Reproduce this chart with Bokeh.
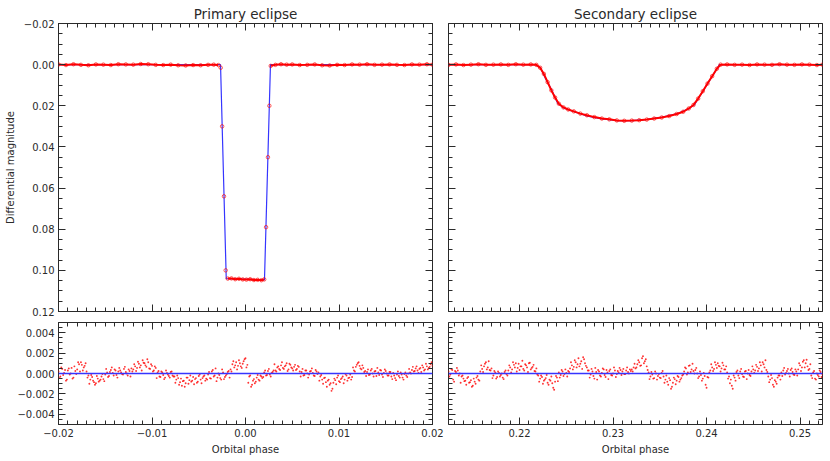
from bokeh.plotting import figure
from bokeh.models import (Range1d, LinearAxis, SingleIntervalTicker, CustomJSTickFormatter,
                          Span, Grid)
from bokeh.layouts import column, row
from bokeh.embed import file_html
from bokeh.resources import INLINE

# ------------------------------------------------------------------ data
TITLE_PRIMARY = "Primary eclipse"
TITLE_SECONDARY = "Secondary eclipse"
Y_LABEL = "Differential magnitude"
X_LABEL = "Orbital phase"

prim_xrange = (-0.02, 0.02)
sec_xrange = (0.2124, 0.2524)
lc_yrange = (0.12, -0.02)        # magnitudes, reversed
res_yrange = (-0.005, 0.005)
res_zero = 0.0

# model (blue) light curves
model1_phase = [-0.02, -0.00267, -0.00206, 0.00203, 0.00267, 0.02]
model1_mag = [0.0, 0.0, 0.1040, 0.1046, 0.0, 0.0]

model2_phase = [0.2124, 0.2217, 0.22224, 0.22277, 0.2234, 0.22406, 0.2247, 0.22545, 0.22727,
                0.22866, 0.23048, 0.2321, 0.23368, 0.23529, 0.2369, 0.23807, 0.23871, 0.24138, 0.2524]
model2_mag = [0.0, 0.0, 0.0015, 0.0067, 0.0120, 0.0187, 0.0210, 0.0222, 0.0250,
              0.0262, 0.0272, 0.0272, 0.0266, 0.0255, 0.0238, 0.0215, 0.0195, 0.0, 0.0]

# observed (red) primary eclipse, split into out-of-eclipse / ingress / bottom / egress / after
prim_pre_phase = [-0.0200, -0.0192, -0.0184, -0.0176, -0.0168, -0.0160, -0.0152, -0.0144, -0.0136,
                  -0.0128, -0.0120, -0.0112, -0.0104, -0.0096, -0.0088, -0.0080, -0.0072, -0.0064,
                  -0.0056, -0.0048, -0.0040, -0.0034, -0.0029]
prim_pre_mag = [-0.0001, 0.0002, -0.0002, 0.0001, 0.0003, -0.0001, 0.0000, 0.0002, -0.0002,
                -0.0001, 0.0000, -0.0003, -0.0002, 0.0001, 0.0002, 0.0000, 0.0003, 0.0004,
                0.0002, 0.0003, 0.0001, 0.0000, 0.0002]
prim_ing_phase = [-0.00265, -0.0025, -0.0023, -0.00212]
prim_ing_mag = [0.0015, 0.0300, 0.0640, 0.1000]
prim_bot_phase = [-0.0019, -0.0015, -0.0011, -0.0007, -0.0003, 0.0001, 0.0005, 0.0009, 0.0013,
                  0.0017, 0.0020]
prim_bot_mag = [0.1040, 0.1039, 0.1043, 0.1041, 0.1044, 0.1045, 0.1043, 0.1047, 0.1046,
                0.1048, 0.1044]
prim_egr_phase = [0.0022, 0.0024, 0.00255]
prim_egr_mag = [0.0790, 0.0450, 0.0200]
prim_post_phase = [0.0027, 0.0032, 0.0038, 0.0044, 0.0050, 0.0058, 0.0066, 0.0074, 0.0082,
                   0.0090, 0.0098, 0.0106, 0.0114, 0.0122, 0.0130, 0.0138, 0.0146, 0.0154,
                   0.0162, 0.0170, 0.0178, 0.0186, 0.0194, 0.0200]
prim_post_mag = [0.0006, 0.0001, -0.0002, 0.0000, -0.0001, 0.0002, 0.0001, -0.0001, 0.0003,
                 0.0004, 0.0001, 0.0002, -0.0001, 0.0000, -0.0002, 0.0001, 0.0000, -0.0001,
                 0.0001, 0.0002, -0.0001, 0.0000, -0.0002, 0.0000]

# observed (red) secondary eclipse
sec_obs_phase = [0.2124, 0.2132, 0.2140, 0.2148, 0.2156, 0.2164, 0.2172, 0.2180, 0.2188, 0.2196,
                 0.2204, 0.2212, 0.2218, 0.2222, 0.2226, 0.2230, 0.2234, 0.2238, 0.2242, 0.2247,
                 0.2252, 0.2258, 0.2265, 0.2272, 0.2280, 0.2288, 0.2296, 0.2304, 0.2312, 0.2320,
                 0.2328, 0.2336, 0.2344, 0.2352, 0.2360, 0.2368, 0.2375, 0.2381, 0.2386, 0.2391,
                 0.2396, 0.2401, 0.2406, 0.2411, 0.2415, 0.2422, 0.2430, 0.2438, 0.2446, 0.2454,
                 0.2462, 0.2470, 0.2478, 0.2486, 0.2494, 0.2502, 0.2510, 0.2518, 0.2524]
sec_obs_mag = [0.0001, -0.0001, 0.0002, 0.0000, -0.0002, 0.0001, 0.0000, -0.0001, 0.0001, -0.0002,
               0.0000, -0.0001, 0.0001, 0.0015, 0.0045, 0.0085, 0.0125, 0.0160, 0.0190, 0.0208,
               0.0218, 0.0227, 0.0238, 0.0246, 0.0255, 0.0262, 0.0266, 0.0271, 0.0273, 0.0272,
               0.0270, 0.0267, 0.0262, 0.0257, 0.0250, 0.0240, 0.0229, 0.0213, 0.0196, 0.0165,
               0.0129, 0.0092, 0.0056, 0.0020, 0.0000, -0.0001, 0.0001, 0.0000, 0.0002, -0.0001,
               0.0000, 0.0001, -0.0002, 0.0000, 0.0001, -0.0001, 0.0000, 0.0002, 0.0000]

# residuals: phase in units of 1e-4, residual in units of 1e-5 mag
res1_phase_e4 = [-200, -198, -196, -194, -192, -190, -188, -186, -184, -182,
                 -180, -178, -176, -174, -172, -170, -168, -166, -164, -162,
                 -160, -158, -156, -154, -152, -150, -148, -146, -144, -142,
                 -140, -138, -136, -134, -132, -130, -128, -126, -124, -122,
                 -120, -118, -116, -114, -112, -110, -108, -106, -104, -102,
                 -100, -98, -96, -94, -92, -90, -88, -86, -84, -82,
                 -80, -78, -76, -74, -72, -70, -68, -66, -64, -62,
                 -60, -58, -56, -54, -52, -50, -48, -46, -44, -42,
                 -40, -38, -36, -34, -32, -30, -28, -26, -24, -22,
                 -20, -18, -16, -14, -12, -10, -8, -6, -4, -2,
                 0, 2, 4, 6, 8, 10, 12, 14, 16, 18,
                 20, 22, 24, 26, 28, 30, 32, 34, 36, 38,
                 40, 42, 44, 46, 48, 50, 52, 54, 56, 58,
                 60, 62, 64, 66, 68, 70, 72, 74, 76, 78,
                 80, 82, 84, 86, 88, 90, 92, 94, 96, 98,
                 100, 102, 104, 106, 108, 110, 112, 114, 116, 118,
                 120, 122, 124, 126, 128, 130, 132, 134, 136, 138,
                 140, 142, 144, 146, 148, 150, 152, 154, 156, 158,
                 160, 162, 164, 166, 168, 170, 172, 174, 176, 178,
                 180, 182, 184, 186, 188, 190, 192, 194, 196, 198,
                 200]
res1_e5 = [20, -30, 45, 5, -70, 30, -10, 55, -40, 25,
           40, 90, 110, 30, 75, 20,
           -20, -60, -35, -85, -95, -50, -70, -30, -55, -10,
           10, -25, 35, 5, 40, -15, 20, 30, -5, 45, 15, -20, 25, 50,
           40, 70, 55, 95, 80, 130, 100, 65, 110, 45, 75, 30, 55,
           10, -30, 20, -15, -40, 5, -25, 15, -20,
           -30, -60, -45, -85, -120, -70, -95, -40, -65, -80, -35, -55, -90, -25, -60, -45, -20, -50,
           -10, -45, 20, -30, 50, -40, -15, -60, 10, -35, -5, 25,
           40, 90, 60, 110, 75, 100, 55, 120, 150, 85,
           -30, -130, -70, -95, -40, -60, -20, -45,
           10, -20, 25, -10, 5, 30,
           30, 60, 45, 80, 55, 70, 100, 40, 85, 50, 65, 35, 75, 20,
           15, -20, 30, 0, -10, 25, 5, -25, 20, 10,
           -30, -60, -45, -85, -70, -110, -170, -90, -65, -40, -75, -55, -30, -60, -20, -45, -10, -35,
           30, 65, 100, 75, 40, 55, 25,
           15, -15, 30, 0, 20, -25, 10, 35, -10, 5, 25, -20, 15,
           -30, 5, -45, -10, -25, 10, -40, -5, -20, 0,
           10, 35, 20, 50, 30, 45, 15, 60, 40, 70, 55, 90, 75]

res1b_phase_e4 = [-199, -197, -195, -193, -191, -189, -187, -185, -183, -181,
                  -179, -177, -175, -173, -171, -169, -167, -165, -163, -161,
                  -159, -157, -155, -153, -151, -149, -147, -145, -143, -141,
                  -139, -137, -135, -133, -131, -129, -127, -125, -123, -121,
                  -119, -117, -115, -113, -111, -109, -107, -105, -103, -101,
                  -99, -97, -95, -93, -91, -89, -87, -85, -83, -81,
                  -79, -77, -75, -73, -71, -69, -67, -65, -63, -61,
                  -59, -57, -55, -53, -51, -49, -47, -45, -43, -41,
                  -39, -37, -35, -33, -31, -29, -27, -25, -23, -21,
                  -19, -17, -15, -13, -11, -9, -7, -5, -3, -1,
                  1, 3, 5, 7, 9, 11, 13, 15, 17, 19,
                  21, 23, 25, 27, 29, 31, 33, 35, 37, 39,
                  41, 43, 45, 47, 49, 51, 53, 55, 57, 59,
                  61, 63, 65, 67, 69, 71, 73, 75, 77, 79,
                  81, 83, 85, 87, 89, 91, 93, 95, 97, 99,
                  101, 103, 105, 107, 109, 111, 113, 115, 117, 119,
                  121, 123, 125, 127, 129, 131, 133, 135, 137, 139,
                  141, 143, 145, 147, 149, 151, 153, 155, 157, 159,
                  161, 163, 165, 167, 169, 171, 173, 175, 177, 179,
                  181, 183, 185, 187, 189, 191, 193, 195, 197, 199]
res1b_e5 = [-45, 60, -15, 35, -60, 50, 0, -50, 70, -5,
            110, 20, 85, 60, 100,
            -40, -100, -15, -70, -110, -25, -80, -60, -5, -75,
            45, -35, 15, 60, -20, 30, -40, 55, 10, -10, 65, 0, 40, -30, 20,
            90, 25, 115, 60, 30, 105, 80, 140, 50, 90, 20, 70,
            -45, 25, -35, 10, -55, 30, -10, -40, 20, -30,
            -90, -20, -110, -50, -75, -130, -40, -100, -20, -70, -105, -45, -80, -10, -95, -30, -70,
            -60, 15, -50, 35, -20, -75, 0, -45, 40, -55, -20, 15, -40,
            20, 120, 80, 40, 130, 70, 95, 140, 60,
            -90, -20, -110, -55, -80, -15, -70, -30,
            -35, 30, -15, 45, -30, 15,
            90, 20, 70, 35, 110, 45, 80, 25, 95, 60, 30, 85, 45, 65,
            -30, 45, -15, 30, -40, 20, 50, -20, 35, -5,
            -70, -15, -100, -40, -130, -60, -95, -150, -50, -105, -20, -85, -45, -95, -5, -70, -40, -60,
            60, 20, 85, 110, 50, 80, 15,
            -25, 40, -10, 45, -30, 25, 55, -15, 30, -35, 40, 0, -20,
            15, -55, -20, -65, 20, -40, -10, -60, 10, -35,
            45, 0, 65, 25, 70, 5, 55, 80, 30, 95, 40, 65, 110]

res2_phase_e4 = [2124, 2126, 2128, 2130, 2132, 2134, 2136, 2138, 2140, 2142,
                 2144, 2146, 2148, 2150, 2152, 2154, 2156, 2158, 2160, 2162,
                 2164, 2166, 2168, 2170, 2172, 2174, 2176, 2178, 2180, 2182,
                 2184, 2186, 2188, 2190, 2192, 2194, 2196, 2198, 2200, 2202,
                 2204, 2206, 2208, 2210, 2212, 2214, 2216, 2218, 2220, 2222,
                 2224, 2226, 2228, 2230, 2232, 2234, 2236, 2238, 2240, 2242,
                 2244, 2246, 2248, 2250, 2252, 2254, 2256, 2258, 2260, 2262,
                 2264, 2266, 2268, 2270, 2272, 2274, 2276, 2278, 2280, 2282,
                 2284, 2286, 2288, 2290, 2292, 2294, 2296, 2298, 2300, 2302,
                 2304, 2306, 2308, 2310, 2312, 2314, 2316, 2318, 2320, 2322,
                 2324, 2326, 2328, 2330, 2332, 2334, 2336, 2338, 2340, 2342,
                 2344, 2346, 2348, 2350, 2352, 2354, 2356, 2358, 2360, 2362,
                 2364, 2366, 2368, 2370, 2372, 2374, 2376, 2378, 2380, 2382,
                 2384, 2386, 2388, 2390, 2392, 2394, 2396, 2398, 2400, 2402,
                 2404, 2406, 2408, 2410, 2412, 2414, 2416, 2418, 2420, 2422,
                 2424, 2426, 2428, 2430, 2432, 2434, 2436, 2438, 2440, 2442,
                 2444, 2446, 2448, 2450, 2452, 2454, 2456, 2458, 2460, 2462,
                 2464, 2466, 2468, 2470, 2472, 2474, 2476, 2478, 2480, 2482,
                 2484, 2486, 2488, 2490, 2492, 2494, 2496, 2498, 2500, 2502,
                 2504, 2506, 2508, 2510, 2512, 2514, 2516, 2518, 2520, 2522,
                 2524]
res2_e5 = [20, -10, 35, -80, 15, 30, 0,
           -30, -50, -70, -45, -90, -65, -120, -80, -40, -60,
           20, 45, 70, 110, 60, 35, 50,
           -20, 10, -35, 5, -15, -40, 15, -5,
           30, 60, 40, 85, 100, 55, 35, 70, 45, 90, 60, 100, 40, 65, 25, 50,
           -20, -50, -35, -70, -45, -90, -60, -30, -140, -80, -40,
           10, -15, 20, -5, 5, 25,
           50, 80, 65, 110, 90, 70, 120, 160, 100, 60,
           30, -10, 20, -50, 15, 35, -20, 5, 40, -35, 10, 25, -15, 0, 30, -5,
           10, 35, 20, -5, 30, 15, 40,
           40, 60, 50, 90, 110, 80, 170, 120, 70,
           10, -30, -10, -45, 0, -25, -40, 5,
           -30, -60, -80, -45, -150, -90, -55, -70, -35, -60, -20,
           20, 50, 10, 80, 40, 25, 35,
           0, -30, -15, -50, -25, -140, -40,
           30, 60, 45, 85, 100, 70, 50, 80, 40,
           10, -30, -60, -150, -40, 15, -20, 20, -5, -35, 25, 0, -15,
           20, 40, 30, 65, 50, 80, 110, 60, 35,
           -30, -60, -45, -130, -80, -40, -20,
           10, 30, -10, 25, 0, 35, 15, -15, 20,
           40, 80, 60, 130, 100, 70, 45,
           -20, 10, -50, 0, -30, 15, -10]

res2b_phase_e4 = [2125, 2127, 2129, 2131, 2133, 2135, 2137, 2139, 2141, 2143,
                  2145, 2147, 2149, 2151, 2153, 2155, 2157, 2159, 2161, 2163,
                  2165, 2167, 2169, 2171, 2173, 2175, 2177, 2179, 2181, 2183,
                  2185, 2187, 2189, 2191, 2193, 2195, 2197, 2199, 2201, 2203,
                  2205, 2207, 2209, 2211, 2213, 2215, 2217, 2219, 2221, 2223,
                  2225, 2227, 2229, 2231, 2233, 2235, 2237, 2239, 2241, 2243,
                  2245, 2247, 2249, 2251, 2253, 2255, 2257, 2259, 2261, 2263,
                  2265, 2267, 2269, 2271, 2273, 2275, 2277, 2279, 2281, 2283,
                  2285, 2287, 2289, 2291, 2293, 2295, 2297, 2299, 2301, 2303,
                  2305, 2307, 2309, 2311, 2313, 2315, 2317, 2319, 2321, 2323,
                  2325, 2327, 2329, 2331, 2333, 2335, 2337, 2339, 2341, 2343,
                  2345, 2347, 2349, 2351, 2353, 2355, 2357, 2359, 2361, 2363,
                  2365, 2367, 2369, 2371, 2373, 2375, 2377, 2379, 2381, 2383,
                  2385, 2387, 2389, 2391, 2393, 2395, 2397, 2399, 2401, 2403,
                  2405, 2407, 2409, 2411, 2413, 2415, 2417, 2419, 2421, 2423,
                  2425, 2427, 2429, 2431, 2433, 2435, 2437, 2439, 2441, 2443,
                  2445, 2447, 2449, 2451, 2453, 2455, 2457, 2459, 2461, 2463,
                  2465, 2467, 2469, 2471, 2473, 2475, 2477, 2479, 2481, 2483,
                  2485, 2487, 2489, 2491, 2493, 2495, 2497, 2499, 2501, 2503,
                  2505, 2507, 2509, 2511, 2513, 2515, 2517, 2519, 2521, 2523]
res2b_e5 = [-30, 45, -60, 25, 55, -20,
            -90, -20, -75, -110, -35, -85, -130, -50, -100, -25, -70,
            80, 15, 95, 40, 120, 30,
            -45, 25, -50, 20, -30, 0, -55, 30, -20,
            80, 10, 110, 60, 20, 95, 70, 125, 30, 80, 15, 105, 55, 85, 20,
            -10, -80, -20, -100, -60, -15, -110, -70, -95, -160, -25, -75,
            -40, 35, -25, 40, -30, 15,
            110, 40, 130, 60, 150, 95, 45, 140, 75, 30,
            -40, 45, -25, 55, -60, 20, -30, 50, -15, 35, -55, 40, -20, 60, -35, 25,
            55, -15, 45, -5, 60, 0, 25,
            20, 95, 60, 130, 75, 150, 100, 140, 35,
            -55, 15, -50, 20, -60, -5, -45, 25,
            -90, -20, -110, -65, -130, -40, -105, -25, -80, -45, -10,
            60, -10, 75, 15, 95, 0, 55,
            -45, 20, -70, 5, -110, -35, 10,
            90, 25, 110, 55, 75, 20, 105, 40, 70,
            -50, -95, -120, -20, -70, 30, -45, 45, -30, 20, -55, 35, -25,
            70, 5, 85, 25, 110, 20, 90, 130, 15,
            -85, -15, -110, -65, -100, -20, -60,
            -25, 55, 5, 45, -30, 50, -10, 40, -20,
            100, 25, 115, 60, 135, 35, 90,
            -45, 25, -60, -15, 30, -35]

# ------------------------------------------------------------------ style
RED = "#ff0000"
BLUE = "#3535ff"
INK = "#2a2a2a"
FONT = "DejaVu Sans"


def make_fig(width, height, xr, yr, bl, br, bt, bb, title=None):
    kw = {}
    if title:
        kw["title"] = title
    p = figure(width=width, height=height, x_range=Range1d(*xr), y_range=Range1d(*yr),
               x_axis_location=None, y_axis_location=None, toolbar_location=None,
               output_backend="svg", min_border_left=bl, min_border_right=br,
               min_border_top=bt, min_border_bottom=bb, **kw)
    p.center = [r for r in p.center if not isinstance(r, Grid)]
    p.outline_line_color = INK
    p.outline_line_width = 1
    p.background_fill_color = "white"
    p.border_fill_color = "white"
    if title:
        p.title.align = "center"
        p.title.text_font = FONT
        p.title.text_font_size = "13.5px"
        p.title.text_font_style = "normal"
        p.title.text_color = INK
        p.title.standoff = 4
        p.title.offset = 0
    return p


def add_axis(p, side, interval, minor, digits=None, label=None):
    ax = LinearAxis(ticker=SingleIntervalTicker(interval=interval, num_minor_ticks=minor))
    ax.major_tick_in = 7
    ax.major_tick_out = 0
    ax.minor_tick_in = 4
    ax.minor_tick_out = 0
    ax.axis_line_color = None
    ax.major_tick_line_color = INK
    ax.minor_tick_line_color = INK
    if digits is None:
        ax.formatter = CustomJSTickFormatter(code="return '';")
        ax.major_label_text_font_size = "0px"
        ax.major_label_standoff = 0
    else:
        ax.formatter = CustomJSTickFormatter(
            code="const t = Math.abs(tick) < 1e-12 ? 0 : tick; "
                 f"return t.toFixed({digits}).replace('-', '\u2212');")
        ax.major_label_text_font = FONT
        ax.major_label_text_font_size = "10px"
        ax.major_label_text_color = INK
        ax.major_label_standoff = 4
    if label:
        ax.axis_label = label
        ax.axis_label_text_font = FONT
        ax.axis_label_text_font_size = "10px"
        ax.axis_label_text_font_style = "normal"
        ax.axis_label_text_color = INK
        ax.axis_label_standoff = 5 if side == "left" else 4
    p.add_layout(ax, side)
    return ax


LW, RW = 447, 383
TH, BH = 317, 144


def residual_dots(p, ph_e4, v_e5):
    p.scatter([v * 1e-4 for v in ph_e4], [v * 1e-5 for v in v_e5], marker="circle",
              size=1.9, fill_color=RED, line_color=None, fill_alpha=0.8)


# top-left: primary eclipse light curve
p1 = make_fig(LW, TH, prim_xrange, lc_yrange, 58, 15, 23, 6, TITLE_PRIMARY)
add_axis(p1, "left", 0.02, 4, digits=2, label=Y_LABEL)
add_axis(p1, "right", 0.02, 4)
add_axis(p1, "below", 0.01, 10)
add_axis(p1, "above", 0.01, 10)
p1.line(model1_phase, model1_mag, line_color=BLUE, line_width=1.2)
for ph, mg in [(prim_pre_phase, prim_pre_mag), (prim_bot_phase, prim_bot_mag),
               (prim_post_phase, prim_post_mag)]:
    p1.line(ph, mg, line_color=RED, line_width=2)
for ph, mg in [(prim_pre_phase, prim_pre_mag), (prim_ing_phase, prim_ing_mag),
               (prim_bot_phase, prim_bot_mag), (prim_egr_phase, prim_egr_mag),
               (prim_post_phase, prim_post_mag)]:
    p1.scatter(ph, mg, marker="circle", size=3.5, line_color=RED, fill_color=None,
               line_width=0.8, line_alpha=0.8)

# top-right: secondary eclipse light curve
p3 = make_fig(RW, TH, sec_xrange, lc_yrange, 1, 8, 23, 6, TITLE_SECONDARY)
add_axis(p3, "left", 0.02, 4)
add_axis(p3, "right", 0.02, 4)
add_axis(p3, "below", 0.01, 10)
add_axis(p3, "above", 0.01, 10)
p3.line(model2_phase, model2_mag, line_color=BLUE, line_width=1.2)
p3.line(sec_obs_phase, sec_obs_mag, line_color=RED, line_width=2)
p3.scatter(sec_obs_phase, sec_obs_mag, marker="circle", size=3.5, line_color=RED,
           fill_color=None, line_width=0.8, line_alpha=0.8)

# bottom-left: primary residuals
p2 = make_fig(LW, BH, prim_xrange, res_yrange, 58, 15, 5, 37)
add_axis(p2, "left", 0.002, 4, digits=3)
add_axis(p2, "right", 0.002, 4)
add_axis(p2, "below", 0.01, 10, digits=2, label=X_LABEL)
add_axis(p2, "above", 0.01, 10)
residual_dots(p2, res1_phase_e4, res1_e5)
residual_dots(p2, res1b_phase_e4, res1b_e5)
p2.add_layout(Span(location=res_zero, dimension="width", line_color=BLUE, line_width=1.4))

# bottom-right: secondary residuals
p4 = make_fig(RW, BH, sec_xrange, res_yrange, 1, 8, 5, 37)
add_axis(p4, "left", 0.002, 4)
add_axis(p4, "right", 0.002, 4)
add_axis(p4, "below", 0.01, 10, digits=2, label=X_LABEL)
add_axis(p4, "above", 0.01, 10)
residual_dots(p4, res2_phase_e4, res2_e5)
residual_dots(p4, res2b_phase_e4, res2b_e5)
p4.add_layout(Span(location=res_zero, dimension="width", line_color=BLUE, line_width=1.4))

layout = column(row(p1, p3), row(p2, p4))
open("out.html", "w").write(file_html(layout, INLINE))
